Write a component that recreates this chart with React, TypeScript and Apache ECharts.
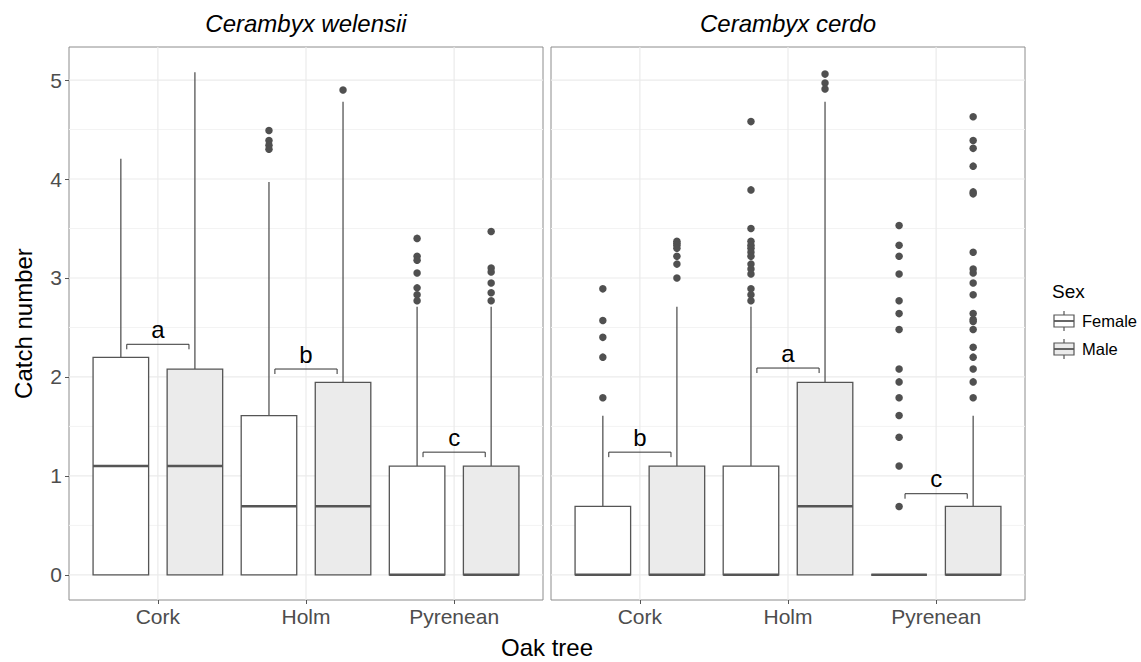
import React, { useEffect, useRef } from "react";
import * as echarts from "echarts";

const FONT = "'Liberation Sans', Arial, Helvetica, sans-serif";

const categories = ["Cork", "Holm", "Pyrenean"];
const species = ["Cerambyx welensii", "Cerambyx cerdo"];
const sexes = ["Female", "Male"];
const yTicks = [0, 1, 2, 3, 4, 5];
const yMinorTicks = [0.5, 1.5, 2.5, 3.5, 4.5];

// five-number summaries per oak tree: [lower whisker, Q1, median, Q3, upper whisker]
const welensiiFemale = [
  [0, 0, 1.099, 2.197, 4.205],
  [0, 0, 0.693, 1.609, 3.97],
  [0, 0, 0, 1.099, 2.708],
];
const welensiiMale = [
  [0, 0, 1.099, 2.079, 5.08],
  [0, 0, 0.693, 1.946, 4.78],
  [0, 0, 0, 1.099, 2.708],
];
const cerdoFemale = [
  [0, 0, 0, 0.693, 1.609],
  [0, 0, 0, 1.099, 2.708],
  [0, 0, 0, 0, 0],
];
const cerdoMale = [
  [0, 0, 0, 1.099, 2.708],
  [0, 0, 0.693, 1.946, 4.78],
  [0, 0, 0, 0.693, 1.609],
];

// outliers per oak tree
const welensiiFemaleOutliers = [
  [],
  [4.49, 4.39, 4.34, 4.3],
  [3.4, 3.22, 3.18, 3.05, 2.9, 2.83, 2.77],
];
const welensiiMaleOutliers = [[], [4.9], [3.47, 3.1, 3.06, 2.95, 2.85, 2.77]];
const cerdoFemaleOutliers = [
  [2.89, 2.57, 2.4, 2.2, 1.79],
  [4.58, 3.89, 3.5, 3.37, 3.33, 3.3, 3.26, 3.22, 3.14, 3.09, 3.04, 2.89, 2.83, 2.77],
  [3.53, 3.33, 3.22, 3.04, 2.77, 2.64, 2.48, 2.08, 1.95, 1.79, 1.61, 1.39, 1.1, 0.69],
];
const cerdoMaleOutliers = [
  [3.37, 3.35, 3.33, 3.3, 3.22, 3.14, 3.0],
  [5.06, 4.97, 4.91],
  [4.63, 4.39, 4.31, 4.13, 3.87, 3.85, 3.26, 3.09, 3.05, 2.95, 2.83, 2.64, 2.58, 2.56, 2.48, 2.3, 2.2, 2.08, 1.95, 1.79],
];

// significance letters and bracket heights per oak tree
const welensiiLetters = ["a", "b", "c"];
const welensiiBracketY = [2.33, 2.08, 1.24];
const cerdoLetters = ["b", "a", "c"];
const cerdoBracketY = [1.24, 2.09, 0.82];

const panels = [
  {
    stats: [welensiiFemale, welensiiMale],
    outliers: [welensiiFemaleOutliers, welensiiMaleOutliers],
    letters: welensiiLetters,
    bracketY: welensiiBracketY,
  },
  {
    stats: [cerdoFemale, cerdoMale],
    outliers: [cerdoFemaleOutliers, cerdoMaleOutliers],
    letters: cerdoLetters,
    bracketY: cerdoBracketY,
  },
];

const DODGE = 0.25;
const BOX_W = 0.375;
const BRACKET_HALF = 0.21;
const LINE = "#555555";
const FILLS = ["#FFFFFF", "#EBEBEB"];
const GRID_LEFT = [69, 551];
const GRID_W = 474;
const GRID_TOP = 47;
const GRID_H = 553;

function renderGridLines(params: any, api: any) {
  const cs = params.coordSys;
  const children: any[] = [];
  yMinorTicks.forEach((v) => {
    const py = api.coord([1, v])[1];
    children.push({
      type: "line",
      shape: { x1: cs.x, y1: py, x2: cs.x + cs.width, y2: py },
      style: { stroke: "#F3F3F3", lineWidth: 1 },
    });
  });
  yTicks.forEach((v) => {
    const py = api.coord([1, v])[1];
    children.push({
      type: "line",
      shape: { x1: cs.x, y1: py, x2: cs.x + cs.width, y2: py },
      style: { stroke: "#EBEBEB", lineWidth: 1.2 },
    });
  });
  categories.forEach((_, i) => {
    const px = api.coord([i + 1, 0])[0];
    children.push({
      type: "line",
      shape: { x1: px, y1: cs.y, x2: px, y2: cs.y + cs.height },
      style: { stroke: "#EBEBEB", lineWidth: 1.2 },
    });
  });
  return { type: "group", children };
}

function renderBox(params: any, api: any) {
  const x = api.value(0);
  const lo = api.value(1);
  const q1 = api.value(2);
  const med = api.value(3);
  const q3 = api.value(4);
  const hi = api.value(5);
  const s = api.value(6);
  const cx = api.coord([x, 0])[0];
  const py = (v: number) => api.coord([x, v])[1];
  const hw = api.size([BOX_W, 0])[0] / 2;
  const children: any[] = [];
  if (hi > q3) {
    children.push({
      type: "line",
      shape: { x1: cx, y1: py(q3), x2: cx, y2: py(hi) },
      style: { stroke: LINE, lineWidth: 1.3 },
    });
  }
  if (lo < q1) {
    children.push({
      type: "line",
      shape: { x1: cx, y1: py(q1), x2: cx, y2: py(lo) },
      style: { stroke: LINE, lineWidth: 1.3 },
    });
  }
  children.push({
    type: "rect",
    shape: { x: cx - hw, y: py(q3), width: hw * 2, height: py(q1) - py(q3) },
    style: { fill: FILLS[s], stroke: LINE, lineWidth: 1.3 },
  });
  children.push({
    type: "line",
    shape: { x1: cx - hw, y1: py(med), x2: cx + hw, y2: py(med) },
    style: { stroke: LINE, lineWidth: 2.5 },
  });
  return { type: "group", children };
}

function makeBracketRenderer(letters: string[]) {
  return (params: any, api: any) => {
    const c = api.value(0);
    const y = api.value(1);
    const l = api.coord([c - BRACKET_HALF, y]);
    const r = api.coord([c + BRACKET_HALF, y]);
    const drop = 5;
    return {
      type: "group",
      children: [
        {
          type: "polyline",
          shape: {
            points: [
              [l[0], l[1] + drop],
              [l[0], l[1]],
              [r[0], r[1]],
              [r[0], r[1] + drop],
            ],
          },
          style: { stroke: "#333333", lineWidth: 1, fill: "none" },
        },
        {
          type: "text",
          x: (l[0] + r[0]) / 2,
          y: l[1] - 15,
          style: {
            text: letters[params.dataIndex],
            fontSize: 24,
            fontFamily: FONT,
            fill: "#000000",
            align: "center",
            verticalAlign: "middle",
            textAlign: "center",
            textVerticalAlign: "middle",
          },
        },
      ],
    };
  };
}

function legendKey(y: number, fill: string) {
  const cx = 1064;
  return {
    type: "group",
    children: [
      { type: "line", shape: { x1: cx, y1: y - 10, x2: cx, y2: y + 10 }, style: { stroke: LINE, lineWidth: 1.2 } },
      { type: "rect", shape: { x: cx - 10, y: y - 6, width: 20, height: 12 }, style: { fill, stroke: LINE, lineWidth: 1.2 } },
      { type: "line", shape: { x1: cx - 10, y1: y, x2: cx + 10, y2: y }, style: { stroke: LINE, lineWidth: 1.8 } },
    ],
  };
}

function textEl(text: string, x: number, y: number, size: number, extra: any = {}, rotation = 0) {
  return {
    type: "text",
    x,
    y,
    rotation,
    style: {
      text,
      fontSize: size,
      fontFamily: FONT,
      fill: "#000000",
      align: extra.align || "center",
      verticalAlign: "middle",
      textAlign: extra.align || "center",
      textVerticalAlign: "middle",
      fontStyle: extra.fontStyle || "normal",
    },
  };
}

export default function App() {
  const ref = useRef<HTMLDivElement>(null);
  useEffect(() => {
    if (!ref.current) return;
    const chart = echarts.init(ref.current, null, { renderer: "svg" });

    const grids = panels.map((_, p) => ({
      left: GRID_LEFT[p],
      top: GRID_TOP,
      width: GRID_W,
      height: GRID_H,
      show: true,
      borderColor: "#8C8C8C",
      borderWidth: 1,
      backgroundColor: "#FFFFFF",
    }));

    const xAxes = panels.map((_, p) => ({
      gridIndex: p,
      type: "value",
      min: 0.4,
      max: 3.6,
      axisLine: { show: false, onZero: false },
      splitLine: { show: false },
      axisTick: { show: true, customValues: [1, 2, 3], length: 4, lineStyle: { color: "#555555" } },
      axisLabel: {
        customValues: [1, 2, 3],
        formatter: (v: number) => categories[Math.round(v) - 1] || "",
        fontSize: 21,
        fontFamily: FONT,
        color: "#4D4D4D",
        margin: 6,
      },
    }));

    const yAxes = panels.map((_, p) => ({
      gridIndex: p,
      type: "value",
      min: -0.254,
      max: 5.334,
      axisLine: { show: false, onZero: false },
      splitLine: { show: false },
      axisTick: { show: p === 0, customValues: yTicks, length: 4, lineStyle: { color: "#555555" } },
      axisLabel: {
        show: p === 0,
        customValues: yTicks,
        fontSize: 21,
        fontFamily: FONT,
        color: "#4D4D4D",
        margin: 7,
      },
    }));

    const series: any[] = [];
    panels.forEach((panel, p) => {
      series.push({
        type: "custom",
        xAxisIndex: p,
        yAxisIndex: p,
        z: 1,
        silent: true,
        renderItem: renderGridLines,
        data: [[1, 0]],
      });
      const boxData: number[][] = [];
      const outData: number[][] = [];
      sexes.forEach((_, s) => {
        categories.forEach((_, c) => {
          const x = c + 1 + (s === 0 ? -DODGE : DODGE);
          boxData.push([x, ...panel.stats[s][c], s]);
          panel.outliers[s][c].forEach((v) => outData.push([x, v]));
        });
      });
      series.push({
        type: "custom",
        name: species[p],
        xAxisIndex: p,
        yAxisIndex: p,
        z: 3,
        silent: true,
        renderItem: renderBox,
        encode: { x: 0, y: [1, 2, 3, 4, 5] },
        data: boxData,
      });
      series.push({
        type: "scatter",
        xAxisIndex: p,
        yAxisIndex: p,
        z: 4,
        silent: true,
        symbol: "circle",
        symbolSize: 7.5,
        itemStyle: { color: "#505050", opacity: 1 },
        data: outData,
      });
      series.push({
        type: "custom",
        xAxisIndex: p,
        yAxisIndex: p,
        z: 5,
        silent: true,
        renderItem: makeBracketRenderer(panel.letters),
        encode: { x: 0, y: 1 },
        data: categories.map((_, c) => [c + 1, panel.bracketY[c]]),
      });
    });

    const graphic: any[] = [
      textEl(species[0], GRID_LEFT[0] + GRID_W / 2, 23.5, 24, { fontStyle: "italic" }),
      textEl(species[1], GRID_LEFT[1] + GRID_W / 2, 23.5, 24, { fontStyle: "italic" }),
      textEl("Oak tree", (GRID_LEFT[0] + GRID_LEFT[1] + GRID_W) / 2, 647, 24),
      textEl("Catch number", 23, GRID_TOP + GRID_H / 2, 24, {}, Math.PI / 2),
      textEl("Sex", 1052, 291, 19, { align: "left" }),
      legendKey(321, FILLS[0]),
      legendKey(349, FILLS[1]),
      textEl(sexes[0], 1082, 321, 16.5, { align: "left" }),
      textEl(sexes[1], 1082, 349, 16.5, { align: "left" }),
    ];

    chart.setOption({
      animation: false,
      backgroundColor: "#FFFFFF",
      grid: grids,
      xAxis: xAxes,
      yAxis: yAxes,
      series,
      graphic,
    });
    return () => chart.dispose();
  }, []);
  return (
    <div
      ref={ref}
      style={{ position: "fixed", left: 0, top: 0, width: 1141, height: 662 }}
    />
  );
}
